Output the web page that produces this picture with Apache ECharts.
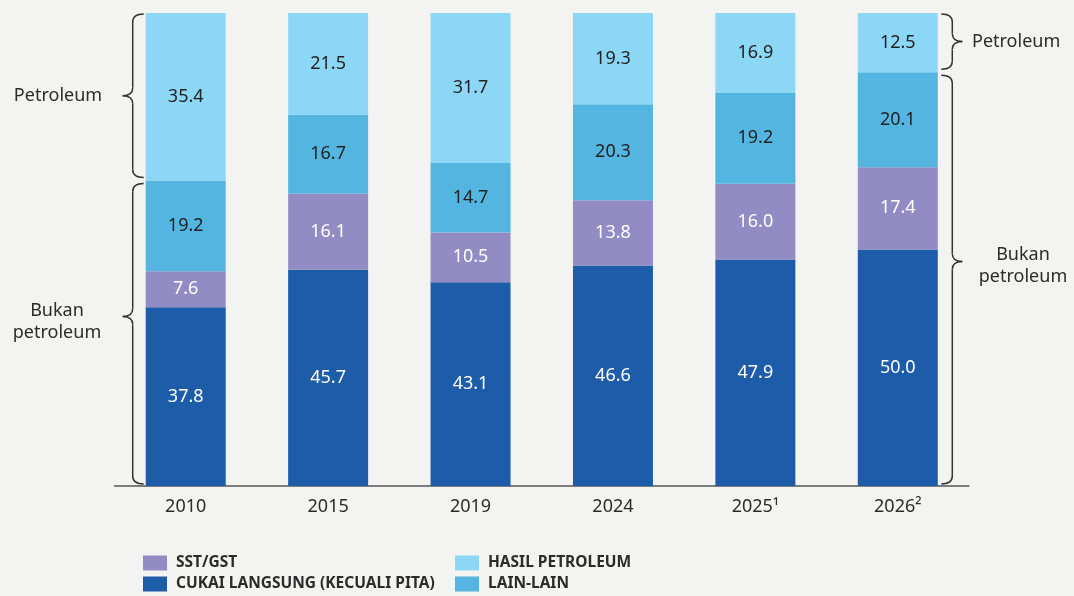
<!DOCTYPE html>
<html>
<head>
<meta charset="utf-8">
<script src="https://cdn.jsdelivr.net/npm/echarts@6/dist/echarts.min.js"></script>
<style>
  html, body { margin: 0; padding: 0; background: #f3f4f2; }
  #chart { width: 1074px; height: 596px; }
</style>
</head>
<body>
<div id="chart"></div>
<script>
// kategori tahun
const years = ["2010", "2015", "2019", "2024", "2025¹", "2026²"];
// peratus hasil mengikut komponen (bawah ke atas)
const cukaiLangsung = [37.8, 45.7, 43.1, 46.6, 47.9, 50.0];
const sstGst = [7.6, 16.1, 10.5, 13.8, 16.0, 17.4];
const lainLain = [19.2, 16.7, 14.7, 20.3, 19.2, 20.1];
const hasilPetroleum = [35.4, 21.5, 31.7, 19.3, 16.9, 12.5];

const FONT = "Noto Sans";
const chart = echarts.init(document.getElementById("chart"));

function barSeries(name, data, color, textColor) {
  return {
    name: name,
    type: "bar",
    stack: "total",
    barWidth: 80,
    data: data,
    itemStyle: { color: color },
    label: {
      show: true,
      position: "inside",
      color: textColor,
      fontFamily: FONT,
      fontSize: 18,
      formatter: (p) => p.value.toFixed(1),
    },
    emphasis: { disabled: true },
  };
}

const legendText = {
  fontFamily: FONT,
  fontWeight: "bold",
  fontSize: 15.5,
  color: "#2b2b2b",
  lineHeight: 15,
  padding: [0, 0, 0, 4],
};

function legendAt(left, names) {
  return {
    data: names,
    orient: "vertical",
    left: left,
    top: 555,
    padding: 0,
    itemWidth: 24,
    itemHeight: 15,
    itemGap: 5,
    icon: "rect",
    textStyle: legendText,
    selectedMode: false,
  };
}

chart.setOption({
  backgroundColor: "#f3f4f2",
  animation: false,
  grid: { left: 114.5, right: 105, top: 13, bottom: 110 },
  legend: [
    legendAt(143, ["SST/GST", "CUKAI LANGSUNG (KECUALI PITA)"]),
    legendAt(455, ["HASIL PETROLEUM", "LAIN-LAIN"]),
  ],
  xAxis: {
    type: "category",
    data: years,
    axisLine: { lineStyle: { color: "#555", width: 1.5 } },
    axisTick: { show: false },
    axisLabel: { fontFamily: FONT, fontSize: 18, color: "#2b2b2b", margin: 12 },
  },
  yAxis: { type: "value", min: 0, max: 100, show: false },
  series: [
    barSeries("CUKAI LANGSUNG (KECUALI PITA)", cukaiLangsung, "#1d5ca9", "#ffffff"),
    barSeries("SST/GST", sstGst, "#938bc4", "#ffffff"),
    barSeries("LAIN-LAIN", lainLain, "#53b5e0", "#222222"),
    barSeries("HASIL PETROLEUM", hasilPetroleum, "#8dd7f6", "#222222"),
  ],
});

const lineStyle = { stroke: "#333", lineWidth: 1.5, fill: null };

// kurungan kerinting dari garis + lengkung; dir = arah hujung atas/bawah
function brace(xv, dir, y1, y2, ym) {
  const w = 11, t = 10, r = 8;
  const xe = xv + dir * w, xt = xv - dir * t;
  const curve = (x1, yy1, cx, cy, x2, yy2) => ({
    type: "bezierCurve",
    shape: { x1: x1, y1: yy1, cpx1: cx, cpy1: cy, x2: x2, y2: yy2 },
    style: lineStyle,
  });
  const line = (a, b) => ({
    type: "line",
    shape: { x1: xv, y1: a, x2: xv, y2: b },
    style: lineStyle,
  });
  return [
    curve(xe, y1, xv, y1, xv, y1 + r),
    line(y1 + r, ym - r),
    curve(xv, ym - r, xv, ym, xt, ym),
    curve(xt, ym, xv, ym, xv, ym + r),
    line(ym + r, y2 - r),
    curve(xv, y2 - r, xv, y2, xe, y2),
  ];
}

function px(i, v) {
  return chart.convertToPixel({ gridIndex: 0 }, [i, v]);
}

const n = years.length - 1;
const leftEdge = px(0, 0)[0] - 40;
const rightEdge = px(n, 0)[0] + 40;
const yTop = px(0, 100)[1] + 1;
const yBot = px(0, 0)[1] - 2;
const splitL = px(0, cukaiLangsung[0] + sstGst[0] + lainLain[0])[1];
const splitR = px(n, cukaiLangsung[n] + sstGst[n] + lainLain[n])[1];

const xvL = leftEdge - 13;
const xvR = rightEdge + 14.5;
const tipL1 = (yTop + splitL - 3) / 2;
const tipL2 = splitL + 3 + (yBot - splitL - 3) * 0.443;
const tipR1 = (yTop + splitR - 3) / 2;
const tipR2 = splitR + 3 + (yBot - splitR - 3) * 0.456;

const txt = (text, x, y, align) => ({
  type: "text",
  style: {
    text: text, x: x, y: y, align: align, verticalAlign: "middle",
    font: "18px " + FONT, fill: "#2b2b2b", lineHeight: 22,
  },
});

chart.setOption({
  graphic: [].concat(
    brace(xvL, 1, yTop, splitL - 3, tipL1),
    brace(xvL, 1, splitL + 3, yBot, tipL2),
    brace(xvR, -1, yTop, splitR - 3, tipR1),
    brace(xvR, -1, splitR + 3, yBot, tipR2),
    [
      txt("Petroleum", 58, tipL1, "center"),
      txt("Bukan\npetroleum", 57, tipL2 + 5, "center"),
      txt("Petroleum", 972, tipR1, "left"),
      txt("Bukan\npetroleum", 1023, tipR2 + 4, "center"),
    ]
  ),
});
</script>
</body>
</html>
